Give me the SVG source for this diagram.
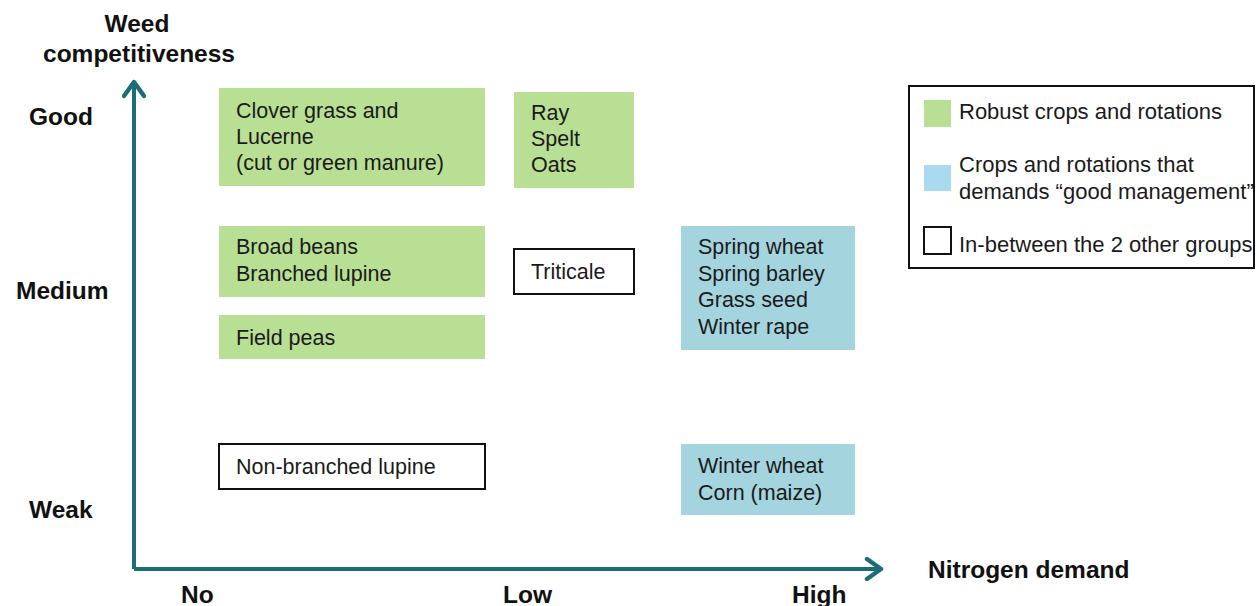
<svg xmlns="http://www.w3.org/2000/svg" width="1258" height="606" viewBox="0 0 1258 606">
<style>
.t{font-family:"Liberation Sans",Arial,sans-serif;font-size:21.5px;fill:#1a1a1a}
.lg{font-size:22px}
.b{font-family:"Liberation Sans",Arial,sans-serif;font-size:24.5px;font-weight:bold;fill:#111}
.g{fill:#b8df94}
.bl{fill:#a4d4de}
.w{fill:#fff;stroke:#111;stroke-width:2}
.ax{stroke:#1d6d77;stroke-width:4;fill:none}
</style>
<defs>
<marker id="ah" viewBox="0 0 12 12" refX="9" refY="6" markerWidth="6" markerHeight="6" orient="auto" markerUnits="strokeWidth">
<path d="M2,1 L9,6 L2,11" fill="none" stroke="#1d6d77" stroke-width="2.2" stroke-linecap="round" stroke-linejoin="round"/>
</marker>
</defs>
<rect width="1258" height="606" fill="#fff"/>
<g id="connectors">
<path class="ax" d="M134,569 L134,82" marker-end="url(#ah)"/>
<path class="ax" d="M134,569 L881,569" marker-end="url(#ah)"/>
</g>
<g id="axis-labels">
<text class="b" x="137" y="32" text-anchor="middle">Weed</text>
<text class="b" x="139" y="62" text-anchor="middle">competitiveness</text>
<text class="b" x="29" y="125">Good</text>
<text class="b" x="16" y="299">Medium</text>
<text class="b" x="29" y="518">Weak</text>
<text class="b" x="181" y="603">No</text>
<text class="b" x="503" y="603">Low</text>
<text class="b" x="792" y="603">High</text>
<text class="b" x="928" y="578">Nitrogen demand</text>
</g>
<g id="clover">
<rect class="g" x="219" y="88" width="266" height="98"/>
<text class="t" x="236" y="118">Clover grass and</text>
<text class="t" x="236" y="144">Lucerne</text>
<text class="t" x="236" y="170">(cut or green manure)</text>
</g>
<g id="ray">
<rect class="g" x="514" y="92" width="120" height="96"/>
<text class="t" x="531" y="120">Ray</text>
<text class="t" x="531" y="146">Spelt</text>
<text class="t" x="531" y="172">Oats</text>
</g>
<g id="beans">
<rect class="g" x="219" y="226" width="266" height="71"/>
<text class="t" x="236" y="254">Broad beans</text>
<text class="t" x="236" y="281">Branched lupine</text>
</g>
<g id="triticale">
<rect class="w" x="514" y="249" width="120" height="45"/>
<text class="t" x="531" y="279">Triticale</text>
</g>
<g id="peas">
<rect class="g" x="219" y="315" width="266" height="44"/>
<text class="t" x="236" y="345">Field peas</text>
</g>
<g id="spring">
<rect class="bl" x="681" y="226" width="174" height="124"/>
<text class="t" x="698" y="254">Spring wheat</text>
<text class="t" x="698" y="281">Spring barley</text>
<text class="t" x="698" y="307">Grass seed</text>
<text class="t" x="698" y="334">Winter rape</text>
</g>
<g id="lupine">
<rect class="w" x="219" y="444" width="266" height="45"/>
<text class="t" x="236" y="474">Non-branched lupine</text>
</g>
<g id="winter">
<rect class="bl" x="681" y="444" width="174" height="71"/>
<text class="t" x="698" y="473">Winter wheat</text>
<text class="t" x="698" y="500">Corn (maize)</text>
</g>
<g id="legend">
<rect x="909" y="86" width="345" height="182" fill="#fff" stroke="#111" stroke-width="2"/>
<rect class="g" x="924" y="100" width="27" height="27"/>
<text class="t lg" x="959" y="119">Robust crops and rotations</text>
<rect x="924" y="165" width="27" height="26" fill="#a9daf0"/>
<text class="t lg" x="959" y="172">Crops and rotations that</text>
<text class="t lg" x="959" y="199">demands “good management”</text>
<rect class="w" x="924" y="227" width="27" height="27"/>
<text class="t lg" x="959" y="252">In-between the 2 other groups</text>
</g>
</svg>
